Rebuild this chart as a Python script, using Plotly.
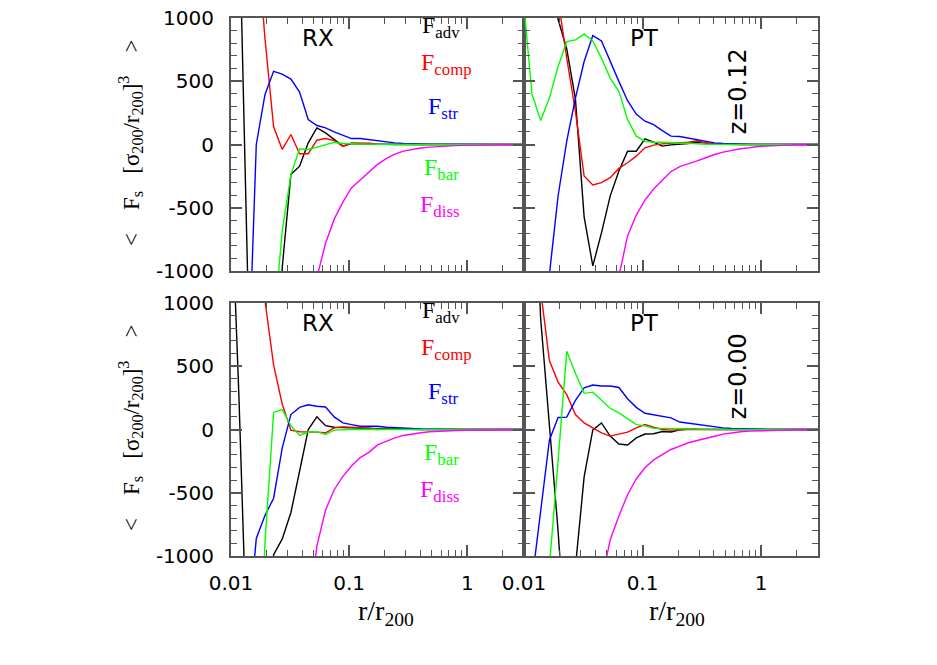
import plotly.graph_objects as go

# radius sample points r/r200
r = [0.009863, 0.01168, 0.01382, 0.01637, 0.01938, 0.02294, 0.02715, 0.03215,
     0.03806, 0.04506, 0.05333, 0.06314, 0.07475, 0.08850, 0.1048, 0.1240,
     0.1468, 0.1738, 0.2058, 0.2436, 0.2884, 0.3415, 0.4043, 0.4786, 0.5665,
     0.6708, 0.7940, 0.9400, 1.113, 1.317, 1.560, 1.846, 2.186, 2.588, 3.064]

# ---- RX, z=0.12 (top-left)
rx12_adv = [2500, 1900, -1030, -2800, -3500, -2600, -970, -237, -171, 13, 131, 92, 39, -13, 8, 5, 3, 2,
            1, 0, 0, 0, 0, 0, 0, 0, 0, 0, 0, 0, 0, 0, 0, 0, 0]
rx12_comp = [4500, 3500, 2600, 1700, 840, 140, -39, 79, -73, -73, 34, 47, 31, -13, 13, 13, 10, 5,
             3, 2, 1, 0, 0, 0, 0, 0, 0, 0, 0, 0, 0, 0, 0, 0, 0]
rx12_str = [-4000, -3500, -2000, 0, 394, 578, 557, 517, 415, 197, 150, 131, 100, 73, 47, 47, 39, 26,
            18, 13, 8, 5, 4, 3, 2, 1, 0, 0, 0, 0, 0, 0, 0, 0, 0]
rx12_bar = [-4000, -4000, -4000, -4000, -2500, -1450, -683, -236, -34, -39, -21, 0, 18, 8, 8, 5, 3, 2,
            0, 0, 0, 0, 0, 0, 0, 0, 0, 0, 0, 0, 0, 0, 0, 0, 0]
rx12_diss = [-5000, -5000, -5000, -5000, -5000, -5000, -5000, -5000, -5000, -1800, -1050, -781, -590,
             -456, -342, -280, -220, -157, -112, -76, -52, -38, -28, -21, -16, -12, -9, -7, -5, -4,
             -3, -2, -1, -1, 0]

# ---- PT, z=0.12 (top-right)
pt12_adv = [5000, 4000, 3000, 1500, 990, 755, 360, -572, -960, -697, -408, -210, -53, -53, 45, 18, -13,
            -3, 0, 8, 20, 10, 5, 2, 0, 0, 0, 0, 0, 0, 0, 0, 0, 0, 0]
pt12_comp = [6000, 4500, 3000, 2000, 1150, 682, 262, -249, -320, -302, -262, -189, -144, -92, -26, -5,
             5, 10, 16, 18, 30, 10, 5, 2, 0, 0, 0, 0, 0, 0, 0, 0, 0, 0, 0]
pt12_str = [-4000, -3000, -1650, -1030, -407, 26, 367, 656, 861, 819, 656, 499, 346, 241, 184, 157,
            110, 66, 63, 50, 34, 24, 13, 8, 5, 3, 2, 1, 0, 0, 0, 0, 0, 0, 0]
pt12_bar = [1150, 399, 189, 367, 617, 814, 827, 874, 819, 682, 525, 420, 197, 66, 26, 18, 18, 13, 10,
            10, 3, 2, 1, 0, 0, 0, 0, 0, 0, 0, 0, 0, 0, 0, 0]
pt12_diss = [-5000, -5000, -5000, -5000, -5000, -5000, -5000, -5000, -5000, -5000, -1500, -1041, -723,
             -558, -440, -352, -282, -214, -175, -155, -130, -105, -79, -60, -45, -34, -26, -16, -13,
             -8, -5, -3, -2, -1, 0]

# ---- RX, z=0.00 (bottom-left)
rx00_adv = [2100, 250, -1900, -3000, -2000, -990, -865, -656, -330, 0, 100, 30, 18, 13, 13, 10, 8, 5,
            3, 2, 1, 0, 0, 0, 0, 0, 0, 0, 0, 0, 0, 0, 0, 0, 0]
rx00_comp = [6000, 4500, 3200, 2000, 1020, 510, 200, -5, -18, -18, -21, -26, 13, 21, 18, 18, 13, 0,
             5, 3, 2, 0, 0, 0, 0, 0, 0, 0, 0, 0, 0, 0, 0, 0, 0]
rx00_str = [-4000, -3000, -1615, -861, -680, -543, -145, 118, 175, 195, 184, 178, 100, 52, 39, 26, 26,
            26, 18, 13, 10, 8, 5, 3, 2, 1, 0, 0, 0, 0, 0, 0, 0, 0, 0]
rx00_bar = [-4000, -4000, -3500, -2500, -900, 135, 157, 30, -47, -20, -17, -39, -5, 0, 0, 2, 0, 0,
            0, 0, 0, 0, 0, 0, 0, 0, 0, 0, 0, 0, 0, 0, 0, 0, 0]
rx00_diss = [-5000, -5000, -5000, -5000, -5000, -5000, -5000, -5000, -5000, -1500, -920, -637, -476,
             -370, -289, -222, -181, -122, -92, -66, -47, -34, -26, -18, -13, -10, -8, -6, -5, -4,
             -3, -2, -1, -1, 0]

# ---- PT, z=0.00 (bottom-right)
pt00_adv = [4000, 2500, 875, 38, -800, -1800, -1100, -375, -3, 52, -52, -115, -123, -66, -36, -34, -16,
            -20, -3, 4, 2, 0, 0, 0, 0, 0, 0, 0, 0, 0, 0, 0, 0, 0, 0]
pt00_comp = [6000, 3500, 1100, 545, 375, 275, 118, 52, 13, -26, -52, -39, -21, 13, 39, 18, 0, -5, 0,
             0, 0, 0, 0, 0, 0, 0, 0, 0, 0, 0, 0, 0, 0, 0, 0]
pt00_str = [-3500, -1200, -645, -85, 95, 98, 230, 330, 352, 344, 344, 332, 243, 175, 128, 115, 105, 92,
            59, 50, 36, 27, 18, 13, 8, 5, 3, 2, 1, 0, 0, 0, 0, 0, 0]
pt00_bar = [-5000, -4500, -3000, -1080, -250, 618, 445, 286, 295, 232, 168, 131, 85, 38, 29, 10, 9, 9,
            9, 6, 3, 2, 0, 0, 0, 0, 0, 0, 0, 0, 0, 0, 0, 0, 0]
pt00_diss = [-5000, -5000, -5000, -5000, -5000, -5000, -5000, -5000, -5000, -1200, -873, -683, -516,
             -391, -302, -240, -197, -158, -131, -105, -87, -68, -53, -37, -26, -18, -13, -10, -8,
             -5, -4, -3, -2, -1, 0]

term_names = ["adv", "comp", "str", "bar", "diss"]
term_colors = ["#000000", "#ff0000", "#0000ff", "#00ff00", "#ff00ff"]
panel_labels = ["RX", "PT", "RX", "PT"]
redshift_labels = ["z=0.12", "z=0.00"]
x_tickvals = [0.01, 0.1, 1]
x_ticktext = ["0.01", "0.1", "1"]
x_minor = [0.02, 0.03, 0.04, 0.05, 0.06, 0.07, 0.08, 0.09,
           0.2, 0.3, 0.4, 0.5, 0.6, 0.7, 0.8, 0.9, 2, 3]
y_tickvals = [-1000, -500, 0, 500, 1000]
y_ticktext = ["-1000", "-500", "0", "500", "1000"]

panels = [
    [rx12_adv, rx12_comp, rx12_str, rx12_bar, rx12_diss],
    [pt12_adv, pt12_comp, pt12_str, pt12_bar, pt12_diss],
    [rx00_adv, rx00_comp, rx00_str, rx00_bar, rx00_diss],
    [pt00_adv, pt00_comp, pt00_str, pt00_bar, pt00_diss],
]

fig = go.Figure()
for p, series in enumerate(panels):
    ax = "" if p == 0 else str(p + 1)
    for name, col, vals in zip(term_names, term_colors, series):
        fig.add_trace(go.Scatter(x=r, y=vals, mode="lines", name=name,
                                 line=dict(color=col, width=1.4),
                                 xaxis="x" + ax, yaxis="y" + ax, showlegend=False,
                                 hoverinfo="skip"))

W, H = 937, 665
L, T = 231, 18
R = W - 818
B = H - 556
pw = W - L - R
ph = H - T - B
xsplit = 293 / pw
ytop0 = (556 - 271) / ph
ybot1 = 253 / ph

axcol = "#555555"
tickfont = dict(family="DejaVu Sans", size=20, color="#000000")

def xaxis_cfg(domain, anchor, show_labels):
    return dict(type="log", range=[-2.0, 0.48], domain=domain, anchor=anchor,
                showline=True, linecolor=axcol, linewidth=2, mirror="allticks",
                ticks="inside", ticklen=11, tickwidth=1.5, tickcolor=axcol,
                tickmode="array", tickvals=x_tickvals, ticktext=x_ticktext,
                showticklabels=show_labels, tickfont=tickfont, ticklabelstandoff=8,
                ticklabeloverflow="allow",
                minor=dict(ticks="inside", ticklen=6, tickwidth=1.2, tickcolor=axcol,
                           tickmode="array", tickvals=x_minor, showgrid=False),
                showgrid=False, zeroline=False)

def yaxis_cfg(domain, anchor, show_labels):
    return dict(range=[-1000, 1000], domain=domain, anchor=anchor,
                showline=True, linecolor=axcol, linewidth=2, mirror="allticks",
                ticks="inside", ticklen=11, tickwidth=1.5, tickcolor=axcol,
                tickmode="array", tickvals=y_tickvals, ticktext=y_ticktext,
                showticklabels=show_labels, tickfont=tickfont, ticklabelstandoff=11,
                ticklabeloverflow="allow",
                minor=dict(ticks="inside", ticklen=6, tickwidth=1.2, tickcolor=axcol,
                           tickmode="linear", tick0=0, dtick=100, showgrid=False),
                showgrid=False, zeroline=False)

fig.update_layout(
    width=W, height=H, margin=dict(l=L, r=R, t=T, b=B, autoexpand=False),
    paper_bgcolor="white", plot_bgcolor="white",
    xaxis=xaxis_cfg([0, xsplit], "y", False),
    yaxis=yaxis_cfg([ytop0, 1], "x", True),
    xaxis2=xaxis_cfg([xsplit, 1], "y2", False),
    yaxis2=yaxis_cfg([ytop0, 1], "x2", False),
    xaxis3=xaxis_cfg([0, xsplit], "y3", True),
    yaxis3=yaxis_cfg([0, ybot1], "x3", True),
    xaxis4=xaxis_cfg([xsplit, 1], "y4", True),
    yaxis4=yaxis_cfg([0, ybot1], "x4", False),
)

sans = "DejaVu Sans"
serif = "Liberation Serif"
ann = []
# (x domain of F left edge, y domain of annotation centre)
term_pos = [(0.645, 0.965), (0.642, 0.818), (0.666, 0.645), (0.652, 0.405), (0.638, 0.255)]
for p in range(4):
    ax = "" if p == 0 else str(p + 1)
    xr, yr = "x" + ax + " domain", "y" + ax + " domain"
    ann.append(dict(text=panel_labels[p], x=(318 - 231) / 293 if p % 2 == 0 else (644 - 524) / 294,
                    y=(271 - 38) / 253, xref=xr, yref=yr, xanchor="center", yanchor="middle",
                    showarrow=False, font=dict(family=sans, size=23, color="#000000")))
    if p % 2 == 0:
        for (tx, ty), name, col in zip(term_pos, term_names, term_colors):
            ann.append(dict(text="F<sub>" + name + "</sub>", x=tx, y=ty, xref=xr, yref=yr,
                            xanchor="left", yanchor="middle", showarrow=False,
                            font=dict(family=serif, size=24, color=col)))
    else:
        ann.append(dict(text=redshift_labels[p // 2], x=(738 - 524) / 294, y=0.71,
                        xref=xr, yref=yr, xanchor="center", yanchor="middle",
                        textangle=-90, showarrow=False,
                        font=dict(family=sans, size=24, color="#000000")))
    if p >= 2:
        ann.append(dict(text="r/r<sub>200</sub>", x=0.53 if p == 2 else 0.52, y=-0.225,
                        xref=xr, yref=yr, showarrow=False, xanchor="center", yanchor="middle",
                        font=dict(family=serif, size=28, color="#000000")))

ytitle = ("&lt;&nbsp;&nbsp;&nbsp;&nbsp;F<sub>s</sub>&nbsp;&nbsp;&nbsp;[σ<sub>200</sub>/r<sub>200</sub>]"
          "<sup>3</sup>&nbsp;&nbsp;&nbsp;&nbsp;&gt;")
for yc in [143, 428]:
    ann.append(dict(text=ytitle, x=(130 - 231) / pw, y=(556 - yc) / ph, xref="paper", yref="paper",
                    xanchor="center", yanchor="middle", textangle=-90, showarrow=False,
                    font=dict(family=serif, size=23, color="#000000")))

fig.update_layout(annotations=ann)
fig.write_html("out.html", config={"displayModeBar": False},
               post_script="document.body.style.margin='0px';")
